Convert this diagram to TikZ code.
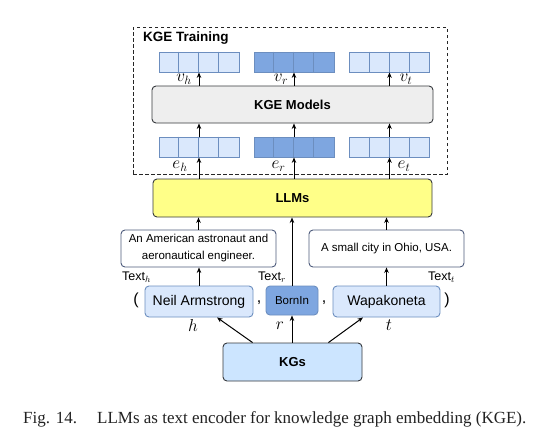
\documentclass[tikz,border=0pt]{standalone}
\usepackage{fontspec}
\setmainfont{Liberation Serif}
\setsansfont{Liberation Sans}
\usetikzlibrary{arrows.meta,calc}
\definecolor{lightblue}{HTML}{DAE8FC}
\definecolor{darkblue}{HTML}{7EA6E0}
\definecolor{blueline}{HTML}{6C8EBF}
\definecolor{kgsblue}{HTML}{CCE5FF}
\definecolor{llmyellow}{HTML}{FFFF88}
\definecolor{modelgray}{HTML}{EEEEEE}
\definecolor{edgegray}{HTML}{36393D}
\definecolor{textedge}{HTML}{4D5B7C}
\definecolor{captiongray}{HTML}{222222}
\newcommand{\vecbox}[4]{%
  \node[vecstyle, fill=#4] (#1) at (#2,#3) {};
  \foreach \i in {1,2,3}{\draw[blueline, line width=0.8pt] ([xshift=\i*20pt]#1.north west) -- ([xshift=\i*20pt]#1.south west);}
}
\begin{document}
\begin{tikzpicture}[x=1pt,y=-1pt,
  box/.style={draw=edgegray, rounded corners=4pt, line width=0.9pt, inner sep=0pt, font=\sffamily},
  vecstyle/.style={draw=blueline, line width=0.8pt, minimum width=80pt, minimum height=20pt, inner sep=0pt},
  arr/.style={-{Stealth[length=5.5pt,width=4.5pt]}, line width=1pt, black},
  bold13/.style={font=\sffamily\bfseries\fontsize{13}{15}\selectfont},
  mathlbl/.style={inner sep=0pt, font=\fontsize{16.5}{18}\selectfont},
  textlbl/.style={inner sep=0pt, font=\sffamily\fontsize{12.5}{14}\selectfont},
  entity/.style={box, draw=blueline, fill=lightblue, font=\sffamily\fontsize{14}{16}\selectfont},
  descbox/.style={box, draw=textedge, fill=white, align=center, font=\sffamily\fontsize{11.5}{17}\selectfont},
  punct/.style={inner sep=0pt, font=\sffamily\fontsize{16}{18}\selectfont}
]
\useasboundingbox[fill=white] (0,0) rectangle (551,445);

% KGE training frame
\node[draw=black!85, dash pattern=on 3.5pt off 2.5pt, line width=0.9pt, minimum width=314pt, minimum height=147pt, inner sep=0pt] (train) at (290,100.5) {};
\node[anchor=west, inner sep=0pt, font=\sffamily\bfseries\fontsize{13.5}{15}\selectfont] (traintitle) at (143,38) {KGE Training};

% vectors
\vecbox{vh}{199}{62}{lightblue}
\vecbox{vr}{294}{62}{darkblue}
\vecbox{vt}{389.5}{62}{lightblue}
\vecbox{eh}{199}{147}{lightblue}
\vecbox{er}{294}{147}{darkblue}
\vecbox{et}{389.5}{147}{lightblue}

% main boxes
\node[box, fill=modelgray, minimum width=281pt, minimum height=37pt, bold13] (models) at (292.5,104.5) {KGE Models};
\node[box, fill=llmyellow, minimum width=279pt, minimum height=38pt, bold13] (llm) at (292.5,198) {LLMs};
\node[descbox, minimum width=155pt, minimum height=37pt] (texth) at (198.5,248.5) {An American astronaut and\\aeronautical engineer.};
\node[descbox, minimum width=155pt, minimum height=37pt] (textt) at (386.5,248.5) {A small city in Ohio, USA.};
\node[entity, minimum width=108pt, minimum height=31pt] (neil) at (199,301.5) {Neil Armstrong};
\node[entity, fill=darkblue, minimum width=52pt, minimum height=29pt, font=\sffamily\fontsize{11.5}{14}\selectfont] (born) at (292,300.5) {BornIn};
\node[entity, minimum width=107pt, minimum height=31pt] (wapa) at (386.5,301.5) {Wapakoneta};
\node[box, fill=kgsblue, minimum width=139pt, minimum height=38pt, bold13] (kgs) at (292.5,362) {KGs};

% punctuation
\node[punct] (lp) at (136,300) {(};
\node[punct] (rp) at (447,300) {)};
\node[punct] (c1) at (259,303) {,};
\node[punct] (c2) at (324,303) {,};

% labels
\node[mathlbl] (lvh) at (184,79) {$v_h$};
\node[mathlbl] (lvr) at (281,79) {$v_r$};
\node[mathlbl] (lvt) at (406,79) {$v_t$};
\node[mathlbl] (leh) at (180,166) {$e_h$};
\node[mathlbl] (ler) at (278.5,166) {$e_r$};
\node[mathlbl] (let) at (404,166) {$e_t$};
\node[textlbl, anchor=west] (lth) at (122,277) {Text$_h$};
\node[textlbl, anchor=west] (ltr) at (258,277) {Text$_r$};
\node[textlbl, anchor=west] (ltt) at (428,277) {Text$_t$};
\node[mathlbl] (lh) at (193,325) {$h$};
\node[mathlbl] (lr) at (280,326) {$r$};
\node[mathlbl] (lt) at (389,325) {$t$};

% arrows: KGs to triple
\draw[arr] ([xshift=30pt]kgs.north west) -- ([xshift=18pt]neil.south);
\draw[arr] (kgs.north -| born) -- (born.south);
\draw[arr] ([xshift=-34pt]kgs.north east) -- ([xshift=-23.5pt]wapa.south);
% triple to descriptions / LLM
\draw[arr] (neil.north) -- (neil.north |- texth.south);
\draw[arr] (wapa.north) -- (wapa.north |- textt.south);
\draw[arr] (born.north) -- (born.north |- llm.south);
\draw[arr] (texth.north) -- (texth.north |- llm.south);
\draw[arr] (textt.north) -- (textt.north |- llm.south);
% LLM to embeddings
\draw[arr] (eh.south |- llm.north) -- (eh.south);
\draw[arr] (er.south |- llm.north) -- (er.south);
\draw[arr] (et.south |- llm.north) -- (et.south);
% embeddings to models
\draw[arr] (eh.north) -- (eh.north |- models.south);
\draw[arr] (er.north) -- (er.north |- models.south);
\draw[arr] (et.north) -- (et.north |- models.south);
% models to vectors
\draw[arr] (vh.south |- models.north) -- (vh.south);
\draw[arr] (vr.south |- models.north) -- (vr.south);
\draw[arr] (vt.south |- models.north) -- (vt.south);

% caption
\node[anchor=base west, inner sep=0pt, text=captiongray, font=\fontsize{17}{19}\selectfont] (fig) at (23,423) {Fig. 14.};
\node[anchor=base west, inner sep=0pt, text=captiongray, font=\fontsize{17}{19}\selectfont] (cap) at (97,423) {LLMs as text encoder for knowledge graph embedding (KGE).};
\end{tikzpicture}
\end{document}
